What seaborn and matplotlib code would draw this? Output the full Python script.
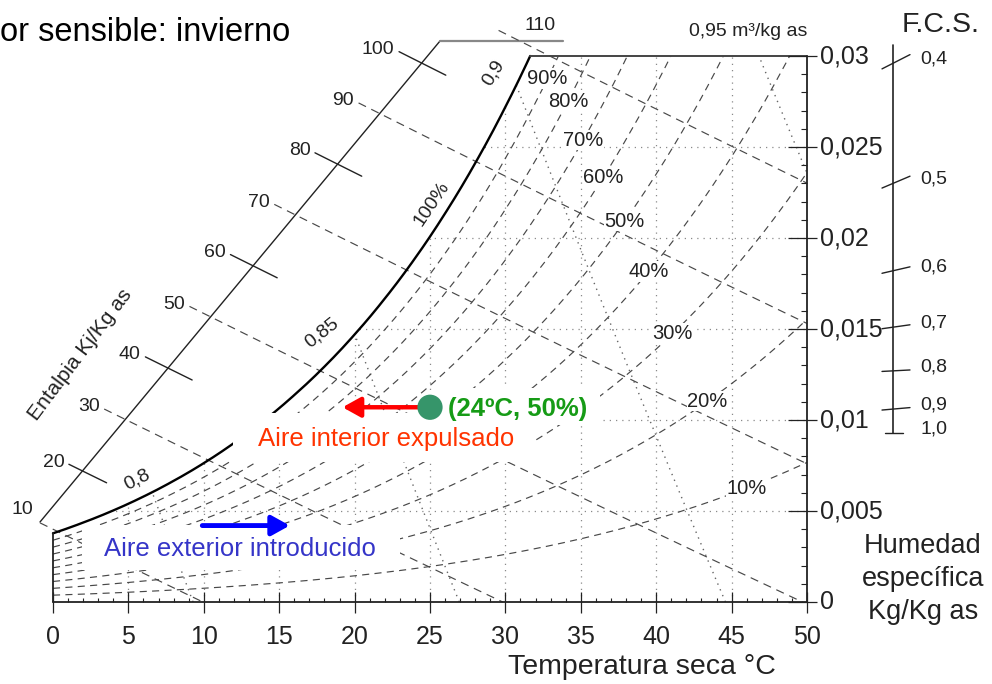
import numpy as np
import matplotlib
matplotlib.use("Agg")
from matplotlib import pyplot as plt
from matplotlib.patches import Polygon, Rectangle
import seaborn as sns

# saturation vapour pressure along the 100% curve (kPa)
satTemps = [0, 2, 4, 6, 8, 10, 12, 14, 16, 18, 20, 22, 24, 26, 28, 30, 32, 34, 36, 38, 40, 42, 44, 46, 48, 50]
satPressure = [0.611, 0.706, 0.813, 0.935, 1.073, 1.228, 1.403, 1.599, 1.819, 2.064, 2.339, 2.645, 2.985,
               3.363, 3.782, 4.246, 4.758, 5.323, 5.945, 6.630, 7.381, 8.205, 9.108, 10.094, 11.171, 12.344]
rhLevels = [10, 20, 30, 40, 50, 60, 70, 80, 90]
rhLabelTemps = [46.0, 43.4, 41.1, 39.5, 37.9, 36.5, 35.15, 34.15, 32.8]
enthalpyLevels = [10, 20, 30, 40, 50, 60, 70, 80, 90, 100, 110]
volumeLevels = [0.80, 0.85, 0.90, 0.95]
tempTicks = [0, 5, 10, 15, 20, 25, 30, 35, 40, 45, 50]
humTicks = [0, 0.005, 0.01, 0.015, 0.02, 0.025, 0.03]
humTickLabels = ["0", "0,005", "0,01", "0,015", "0,02", "0,025", "0,03"]
fcsLabels = ["0,4", "0,5", "0,6", "0,7", "0,8", "0,9", "1,0"]
fcsHumidity = [0.0296, 0.0230, 0.0182, 0.0151, 0.0127, 0.0106, 0.0093]
fcsTickAngles = [27, 23, 13, 8, 3, 5, 0]

pointTemp = 25.0
pointHum = 0.0107
exhaustTemps = [24.3, 19.2]
intakeTemps = [9.9, 15.7]
intakeHum = 0.0042

P_ATM = 101.325

# pixel -> data helpers (chart scale: 0..50 C over 53..807 px, 0..0.03 over 602..56 px)
PX_T = 15.08
PX_W = 18200.0


def px(x, y):
    return (x - 53) / PX_T, (602 - y) / PX_W


def humidity(pv):
    return 0.622 * pv / (P_ATM - pv)


def enthalpy_w(h, t):
    return (h - 1.006 * t) / (2501 + 1.86 * t)


sns.set_theme(style="white")
plt.rcParams["font.family"] = ["Liberation Sans", "DejaVu Sans"]

fig = plt.figure(figsize=(9.92, 6.84), dpi=100)
ax = fig.add_axes([0, 0, 1, 1])
ax.set_xlim(px(0, 0)[0], px(992, 0)[0])
ax.set_ylim(px(0, 684)[1], px(0, 0)[1])
ax.axis("off")

INK = "#222222"
LINE = "#484848"
DOT = "#8a8a8a"


def draw(x, y, clip=None, **kw):
    sns.lineplot(x=np.asarray(x), y=np.asarray(y), ax=ax, sort=False, estimator=None, legend=False, **kw)
    line = ax.lines[-1]
    if clip is not None:
        line.set_clip_path(clip)
    return line


# saturation curve
tFine = np.linspace(0, 50, 501)
pvFine = np.exp(np.interp(tFine, satTemps, np.log(satPressure)))
wSat = humidity(pvFine)
tTop = np.interp(0.03, wSat, tFine)
keep = wSat < 0.03
satT = np.append(tFine[keep], tTop)
satW = np.append(wSat[keep], 0.03)

region = Polygon(np.column_stack([np.r_[0, satT, 50, 50], np.r_[0, satW, 0.03, 0]]),
                 closed=True, transform=ax.transData)

# dotted grid
for t in tempTicks[1:-1]:
    draw([t, t], [0, 0.03], clip=region, color=DOT, linewidth=0.9, linestyle=(0, (1, 4)))
for w in humTicks[1:-1]:
    draw([0, 50], [w, w], clip=region, color=DOT, linewidth=0.9, linestyle=(0, (1, 4)))

# specific volume lines
wRange = np.linspace(0, 0.0305, 100)
for v in volumeLevels:
    tv = v * P_ATM / (0.287 * (1 + 1.6078 * wRange)) - 273.15
    draw(tv, wRange, clip=region, color="#666666", linewidth=1.0, linestyle=(0, (1, 3.5)))

# relative humidity curves
for rh, tl in zip(rhLevels, rhLabelTemps):
    draw(tFine, humidity(rh / 100 * pvFine), clip=region, color=LINE, linewidth=0.85, linestyle=(0, (6, 4.5)))
    pvl = np.exp(np.interp(tl, satTemps, np.log(satPressure)))
    ax.text(tl, humidity(rh / 100 * pvl), f"{rh}%", fontsize=14.5, ha="center", va="center", color=INK,
            bbox=dict(facecolor="white", edgecolor="none", pad=0.5), zorder=3)

# enthalpy scale
scaleA = px(40, 522)
scaleB = px(440, 41)
scaleC = px(563, 41)
scaleT = np.r_[np.linspace(scaleA[0], scaleB[0], 300), np.linspace(scaleB[0], scaleC[0], 100)[1:]]
scaleW = np.r_[np.linspace(scaleA[1], scaleB[1], 300), np.full(99, scaleB[1])]
scaleH = 1.006 * scaleT + scaleW * (2501 + 1.86 * scaleT)
draw([scaleA[0], scaleB[0]], [scaleA[1], scaleB[1]], color=INK, linewidth=1.0)
draw([scaleB[0], scaleC[0]], [scaleB[1], scaleC[1]], color="#888888", linewidth=1.6)

for h in enthalpyLevels:
    tc = np.interp(h, scaleH, scaleT)
    if h % 20 == 0:
        t0, t1 = tc - (0.9 if h == 20 else 1.5), tc + 1.6
        tt = np.linspace(t0, t1, 20)
        draw(tt, enthalpy_w(h, tt), color=INK, linewidth=1.0)
    else:
        t0 = tc - 1.4 if h > 10 else tc
        t1 = min(50, h / 1.006)
        tt = np.linspace(t0, t1, 200)
        draw(tt, enthalpy_w(h, tt), color=LINE, linewidth=0.85, linestyle=(0, (7, 5)))
    if h == 110:
        ax.text(*px(540, 25), "110", fontsize=14, ha="center", va="center", color=INK)
    elif h == 10:
        ax.text(*px(22, 509), "10", fontsize=14, ha="center", va="center", color=INK)
    else:
        tl = t0 - 0.3
        ax.text(tl, enthalpy_w(h, tl), str(h), fontsize=14, ha="right", va="center", color=INK)

ax.text(*px(80, 355), "Entalpia Kj/Kg as", fontsize=15, rotation=53, ha="center", va="center", color=INK)

# saturation curve and frame
draw(satT, satW, color="black", linewidth=1.7)
draw([tTop, 50], [0.03, 0.03], color="#444444", linewidth=1.4)
draw([50, 50], [0, 0.03], color=INK, linewidth=1.3)
draw([0, 50], [0, 0], color=INK, linewidth=1.3)
draw([0, 0], [0, satW[0]], color=INK, linewidth=1.3)

# ticks
minorT = [t for t in range(1, 50) if t % 5]
ax.vlines(minorT, 0, 4 / PX_W, color=INK, linewidth=0.8)
ax.vlines(tempTicks, -11 / PX_W, 10 / PX_W, color=INK, linewidth=0.9)
minorW = [k / 1000 for k in range(1, 30) if k % 5]
ax.hlines(minorW, 50 - 6 / PX_T, 50, color=INK, linewidth=0.8)
ax.hlines(humTicks, 50 - 19 / PX_T, 50 + 10 / PX_T, color=INK, linewidth=0.9)

for t in tempTicks:
    ax.text(t, px(0, 637)[1], str(t), fontsize=18, ha="center", va="center", color=INK)
for w, lab in zip(humTicks, humTickLabels):
    ax.text(px(820, 0)[0], w, lab, fontsize=18, ha="left", va="center", color=INK)

ax.text(*px(642, 667), "Temperatura seca °C", fontsize=20.5, ha="center", va="center", color=INK)
ax.text(*px(923, 546), "Humedad", fontsize=19.5, ha="center", va="center", color=INK)
ax.text(*px(923, 579), "específica", fontsize=19.5, ha="center", va="center", color=INK)
ax.text(*px(923, 612), "Kg/Kg as", fontsize=19.5, ha="center", va="center", color=INK)

# curve labels
ax.text(*px(493, 73), "0,9", fontsize=14, rotation=58, ha="center", va="center", color=INK)
ax.text(*px(432, 204), "100%", fontsize=14, rotation=56, ha="center", va="center", color=INK)
ax.text(*px(322, 333), "0,85", fontsize=14, rotation=38, ha="center", va="center", color=INK)
ax.text(*px(137, 480), "0,8", fontsize=14, rotation=27, ha="center", va="center", color=INK)
ax.text(*px(748, 31), "0,95 m³/kg as", fontsize=14, ha="center", va="center", color=INK)

# F.C.S. scale
fcsX = px(893, 0)[0]
draw([fcsX, fcsX], [px(0, 45)[1], fcsHumidity[-1]], color=INK, linewidth=1.2)
for w, lab, ang in zip(fcsHumidity, fcsLabels, fcsTickAngles):
    yc = 602 - w * PX_W
    if lab == "1,0":
        x0, x1 = 885, 903
    else:
        x0, x1 = 882, 910
    slope = np.tan(np.radians(ang))
    p0 = px(x0, yc + slope * (893 - x0))
    p1 = px(x1, yc - slope * (x1 - 893))
    draw([p0[0], p1[0]], [p0[1], p1[1]], color=INK, linewidth=1.0)
    ax.text(*px(920, yc - 4), lab, fontsize=14, ha="left", va="center", color=INK)
ax.text(*px(941, 25), "F.C.S.", fontsize=20.5, ha="center", va="center", color=INK)

# title (cut at the left edge)
ax.text(*px(0, 32), "or sensible: invierno", fontsize=23.5, ha="left", va="center", color="black")

# overlay annotations
for (x0, y0, x1, y1) in [(233, 413, 533, 462), (82, 525, 400, 570), (440, 388, 600, 425)]:
    a = px(x0, y1)
    b = px(x1, y0)
    ax.add_patch(Rectangle(a, b[0] - a[0], b[1] - a[1], facecolor="white", edgecolor="none", zorder=4))

ax.annotate("", xy=(exhaustTemps[1], pointHum), xytext=(exhaustTemps[0], pointHum),
            arrowprops=dict(arrowstyle="-|>,head_length=0.45,head_width=0.25", color="#ff0000",
                            lw=3.2, mutation_scale=24, shrinkA=0, shrinkB=0), zorder=5)
ax.annotate("", xy=(intakeTemps[1], intakeHum), xytext=(intakeTemps[0], intakeHum),
            arrowprops=dict(arrowstyle="-|>,head_length=0.45,head_width=0.25", color="#0000ff",
                            lw=3.5, mutation_scale=24, shrinkA=0, shrinkB=0), zorder=5)
sns.scatterplot(x=[pointTemp], y=[pointHum], ax=ax, s=330, color="#36956a", edgecolor="none",
                zorder=6, legend=False)

ax.text(*px(448, 409), "(24ºC, 50%)", fontsize=18.5, fontweight="bold", ha="left", va="center",
        color="#169b16", zorder=7)
ax.text(*px(386, 439), "Aire interior expulsado", fontsize=18.5, ha="center", va="center",
        color="#ff3300", zorder=7)
ax.text(*px(240, 549), "Aire exterior introducido", fontsize=18.5, ha="center", va="center",
        color="#3535c8", zorder=7)

plt.savefig("out.png", dpi=100)
plt.close()
